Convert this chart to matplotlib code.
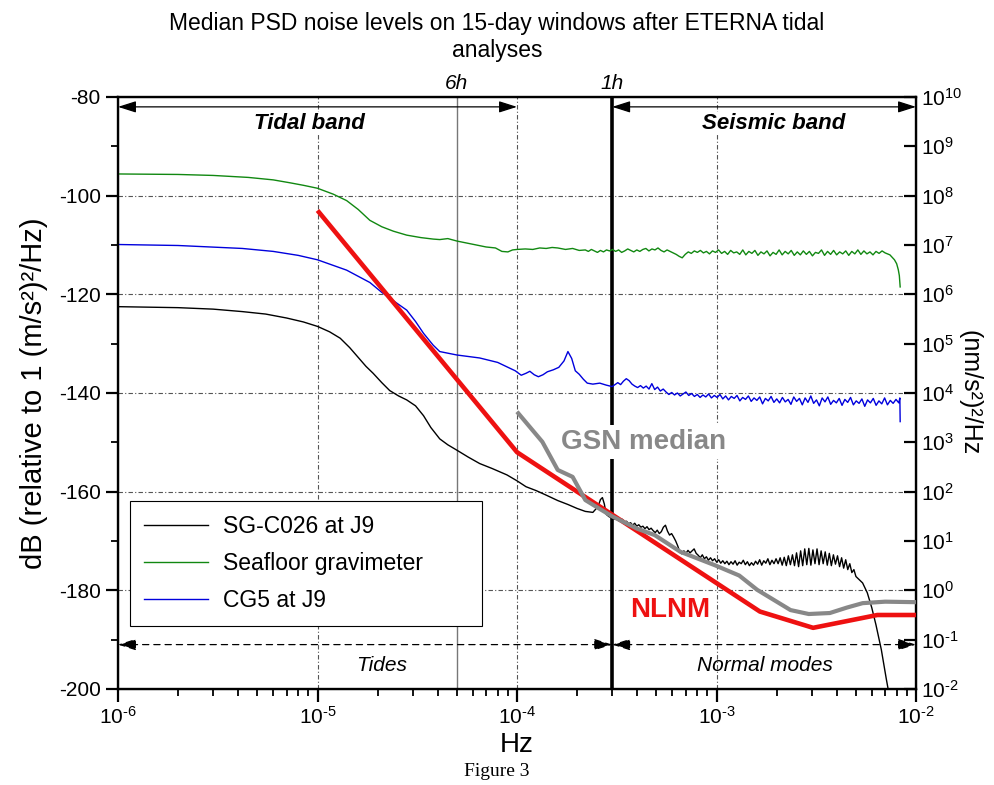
import numpy as np
import matplotlib.pyplot as plt
from matplotlib.ticker import FuncFormatter

plt.rcParams['font.family'] = ['Liberation Sans', 'DejaVu Sans']
plt.rcParams['mathtext.fontset'] = 'custom'
plt.rcParams['mathtext.rm'] = 'Liberation Sans'
plt.rcParams['mathtext.it'] = 'Liberation Sans:italic'
plt.rcParams['mathtext.bf'] = 'Liberation Sans:bold'
plt.rcParams['axes.unicode_minus'] = False

# ---- data (frequency in Hz, level in dB) ----
green_f = [1e-6, 2e-6, 3e-6, 4.5e-6, 6e-6, 7.3e-6, 8.5e-6, 1e-5, 1.2e-5, 1.4e-5, 1.6e-5,
           1.83e-5, 2.1e-5, 2.4e-5, 2.8e-5, 3.3e-5, 3.8e-5, 4.1e-5, 4.5e-5, 5e-5, 5.6e-5,
           6.3e-5, 7e-5, 7.8e-5, 8.4e-5, 9e-5, 9.5e-5, 1.0e-4, 1.1e-4, 1.2e-4, 1.3e-4,
           1.4e-4, 1.5e-4, 1.6e-4, 1.75e-4, 1.9e-4, 2.05e-4]
green_db = [-95.6, -95.7, -95.9, -96.3, -96.8, -97.4, -97.9, -98.5, -99.7, -101.0, -102.8,
            -105.0, -106.3, -107.2, -108.0, -108.5, -108.8, -108.9, -108.7, -109.2, -109.6,
            -110.0, -110.4, -110.6, -111.3, -111.4, -111.0, -110.9, -110.8, -110.9, -110.6,
            -110.7, -110.5, -110.6, -110.9, -110.7, -111.1]
# noisy part, 100 samples log-spaced 2.2e-4 .. 7e-3
green_noise = [-111.0, -111.3, -110.9, -111.2, -111.5, -111.1, -111.4, -111.0, -111.2, -110.9,
               -111.3, -111.0, -111.5, -111.2, -110.8, -111.1, -111.4, -111.0, -111.3, -110.9,
               -110.7, -111.2, -110.8, -111.0, -110.6, -111.1, -111.4, -111.0, -111.3, -111.6,
               -111.9, -112.3, -112.6, -111.9, -111.4, -111.7, -111.2, -111.5, -111.1, -111.6,
               -111.3, -111.8, -111.2, -111.5, -111.0, -111.7, -111.3, -111.9, -111.1, -111.6,
               -111.4, -111.9, -111.0, -112.0, -111.3, -111.7, -111.1, -112.1, -111.4, -111.8,
               -111.2, -112.2, -111.5, -111.9, -111.0, -112.0, -111.3, -111.8, -111.1, -112.1,
               -111.4, -112.0, -111.2, -111.9, -111.3, -112.2, -111.5, -111.7, -111.0, -112.1,
               -111.3, -111.9, -111.1, -112.0, -111.4, -111.8, -111.2, -112.1, -111.3, -111.8,
               -111.0, -111.9, -111.2, -111.8, -111.4, -112.0, -111.3, -111.7, -111.2, -111.6]
green_end_f = [7.4e-3, 7.8e-3, 8.0e-3, 8.15e-3, 8.25e-3, 8.3e-3, 8.33e-3]
green_end_db = [-112.0, -113.0, -113.8, -115.0, -116.2, -117.5, -118.5]

blue_f = [1e-6, 2e-6, 4.2e-6, 6e-6, 8e-6, 1e-5, 1.4e-5, 1.83e-5, 2.1e-5, 2.5e-5, 2.8e-5,
          3.1e-5, 3.4e-5, 3.8e-5, 4.1e-5, 5e-5, 6.5e-5, 8e-5, 8.9e-5, 9.8e-5, 1.05e-4,
          1.11e-4, 1.16e-4, 1.22e-4, 1.28e-4, 1.35e-4, 1.42e-4, 1.52e-4, 1.62e-4, 1.72e-4,
          1.80e-4, 1.88e-4, 1.96e-4, 2.05e-4, 2.15e-4, 2.25e-4, 2.4e-4, 2.6e-4, 2.8e-4, 3.0e-4]
blue_db = [-109.9, -110.1, -110.7, -111.3, -112.1, -113.0, -115.1, -117.6, -119.6, -121.8, -123.2,
           -125.5, -127.9, -130.3, -131.6, -132.3, -132.9, -133.8, -134.7, -135.5, -136.4,
           -136.0, -135.6, -136.3, -136.7, -136.3, -135.7, -135.3, -134.8, -133.5,
           -131.6, -133.0, -135.5, -136.2, -137.2, -138.0, -138.2, -138.0, -138.4, -138.7]
# noisy part, 100 samples log-spaced 3.2e-4 .. 8.2e-3
blue_noise = [-137.9, -138.3, -137.6, -137.1, -137.5, -138.2, -138.6, -138.9, -138.5, -139.0,
              -138.6, -139.2, -138.1, -139.3, -138.8, -139.6, -139.2, -139.8, -140.3, -139.9,
              -140.4, -140.0, -140.6, -140.2, -139.8, -140.5, -140.1, -140.7, -140.3, -140.9,
              -140.4, -140.8, -140.2, -141.0, -140.5, -140.9, -140.3, -141.2, -140.6, -141.4,
              -140.7, -141.1, -140.5, -141.6, -140.9, -141.3, -140.6, -141.7, -141.0, -141.5,
              -140.8, -142.2, -141.1, -141.6, -140.7, -141.9, -141.2, -142.0, -140.9, -141.8,
              -141.3, -142.3, -140.8, -141.7, -141.1, -142.4, -141.0, -141.9, -140.6, -142.1,
              -141.4, -142.6, -141.0, -141.8, -140.8, -142.3, -141.5, -142.0, -141.1, -142.5,
              -141.3, -141.9, -140.9, -142.4, -141.6, -142.1, -141.2, -142.7, -141.4, -142.0,
              -141.1, -142.5, -141.6, -142.2, -141.0, -142.4, -141.5, -142.1, -141.3, -142.0]
blue_end_f = [8.3e-3, 8.33e-3]
blue_end_db = [-141.0, -145.8]

black_f = [1e-6, 2e-6, 3e-6, 4.2e-6, 5.5e-6, 7e-6, 8.5e-6, 1e-5, 1.15e-5, 1.3e-5, 1.45e-5,
           1.6e-5, 1.75e-5, 1.9e-5, 2.1e-5, 2.3e-5, 2.55e-5, 2.8e-5, 3.1e-5, 3.4e-5, 3.7e-5,
           4.1e-5, 4.5e-5, 5e-5, 5.7e-5, 6.5e-5, 7.5e-5, 8.9e-5, 1.0e-4, 1.11e-4, 1.25e-4,
           1.4e-4, 1.6e-4, 1.8e-4, 2.0e-4, 2.2e-4, 2.4e-4, 2.55e-4, 2.62e-4, 2.68e-4, 2.74e-4,
           2.8e-4, 2.9e-4]
black_db = [-122.5, -122.7, -123.0, -123.5, -124.0, -124.8, -125.6, -126.5, -127.6, -128.9, -130.8,
            -132.8, -134.6, -136.0, -137.9, -139.5, -140.6, -141.4, -142.6, -144.6, -147.0,
            -149.3, -150.5, -151.6, -153.0, -154.3, -155.3, -156.6, -157.8, -159.0, -159.8,
            -160.7, -161.8, -162.6, -163.4, -164.0, -164.2, -163.0, -161.6, -161.2, -162.5,
            -164.6, -165.1]
# noisy part, 120 samples log-spaced 3e-4 .. 5e-3
black_noise = [-165.3, -165.6, -165.1, -165.8, -166.0, -165.6, -166.2, -166.0, -166.5, -166.3,
               -166.8, -166.4, -167.0, -166.7, -167.2, -167.0, -167.5, -167.1, -167.7, -167.4,
               -167.9, -168.3, -167.8, -168.5, -168.1, -167.2, -166.8, -168.0, -168.8, -168.5,
               -169.2, -170.0, -171.0, -172.2, -172.6, -172.0, -172.5, -171.9, -172.4, -172.0,
               -171.6, -172.5, -172.9, -173.4, -172.8, -173.6, -173.2, -173.9, -173.4, -174.0,
               -173.6, -174.3, -173.8, -174.5, -174.0, -174.6, -174.1, -174.8, -174.2, -174.7,
               -174.0, -174.9, -174.3, -174.6, -173.9, -174.8, -174.2, -175.0, -174.4, -174.9,
               -174.1, -174.7, -173.8, -174.9, -174.0, -174.5, -173.6, -174.8, -173.9, -174.6,
               -173.6, -174.6, -173.4, -174.9, -173.3, -175.0, -173.0, -174.8, -172.8, -175.0,
               -172.4, -175.2, -172.0, -175.0, -171.6, -174.8, -171.5, -174.9, -171.8, -174.6,
               -171.6, -174.8, -172.0, -174.6, -172.2, -174.9, -172.5, -175.0, -172.8, -174.7,
               -173.0, -175.2, -173.4, -175.5, -173.8, -175.8, -174.6, -176.4, -175.8, -177.2]
black_end_f = [5.4e-3, 5.7e-3, 6.0e-3, 6.3e-3, 6.7e-3, 7.1e-3, 7.4e-3]
black_end_db = [-178.5, -180.5, -183.5, -187.0, -192.0, -198.0, -202.0]

nlnm_f = [1e-5, 1e-4, 1.65e-3, 3.05e-3, 6.4e-3, 1e-2]
nlnm_db = [-103.0, -152.0, -184.3, -187.6, -185.0, -185.0]

gsn_f = [1e-4, 1.34e-4, 1.6e-4, 1.9e-4, 2.2e-4, 2.6e-4, 3e-4, 4e-4, 4.9e-4, 6.6e-4, 9.8e-4,
         1.3e-3, 1.6e-3, 2.35e-3, 2.9e-3, 3.7e-3, 4.5e-3, 5.4e-3, 7e-3, 1e-2]
gsn_db = [-143.8, -149.9, -155.6, -157.0, -161.7, -163.5, -165.0, -167.5, -168.8, -172.2, -174.9,
          -177.0, -179.9, -184.0, -184.8, -184.6, -183.5, -182.6, -182.3, -182.4]

f_6h = 5e-5
f_1h = 3e-4

# ---- assemble series ----
gf = np.concatenate([green_f, np.geomspace(2.2e-4, 7e-3, len(green_noise)), green_end_f])
gd = np.concatenate([green_db, green_noise, green_end_db])
bf = np.concatenate([blue_f, np.geomspace(3.2e-4, 8.2e-3, len(blue_noise)), blue_end_f])
bd = np.concatenate([blue_db, blue_noise, blue_end_db])
kf = np.concatenate([black_f, np.geomspace(3e-4, 5e-3, len(black_noise)), black_end_f])
kd = np.concatenate([black_db, black_noise, black_end_db])


def pow10(v, pos):
    e = int(round(np.log10(v)))
    return r'$10^{\text{%d}}$' % e


fig = plt.figure(figsize=(9.94, 7.85), dpi=100)
ax = fig.add_axes([118/994, 1 - 689/785, 798/994, 592/785])
ax.set_xscale('log')
ax.set_xlim(1e-6, 1e-2)
ax.set_ylim(-200, -80)

# grid
for fx in [1e-5, 1e-4, 1e-3]:
    ax.axvline(fx, color='#555555', lw=0.8, ls=(0, (4, 2, 1, 2)), zorder=1)
for yy in [-100, -120, -140, -160, -180]:
    ax.axhline(yy, color='#555555', lw=0.8, ls=(0, (4, 2, 1, 2)), zorder=1)

ax.axvline(f_6h, color='#777777', lw=1.0, zorder=1)
ax.axvline(f_1h, color='black', lw=2.6, zorder=2)

ax.plot(kf, kd, color='black', lw=1.0, label='SG-C026 at J9', zorder=3)
ax.plot(gf, gd, color='#118811', lw=1.0, label='Seafloor gravimeter', zorder=3)
ax.plot(bf, bd, color='#0000dd', lw=1.0, label='CG5 at J9', zorder=3)
ax.plot(nlnm_f, nlnm_db, color='#ee1111', lw=3.3, zorder=4, solid_capstyle='butt')
ax.plot(gsn_f, gsn_db, color='#888888', lw=3.0, zorder=4, solid_capstyle='butt')

# arrows
head = '<|-|>,head_length=1.1,head_width=0.35'
for x0, x1 in [(1e-6, 1e-4), (f_1h, 1e-2)]:
    ax.annotate('', xy=(x1, -82), xytext=(x0, -82),
                arrowprops=dict(arrowstyle=head, color='black', lw=0.9,
                                mutation_scale=10, shrinkA=0, shrinkB=0), zorder=5)
for x0, x1 in [(1e-6, f_1h), (f_1h, 1e-2)]:
    ax.annotate('', xy=(x1, -191), xytext=(x0, -191),
                arrowprops=dict(arrowstyle=head, color='black', lw=0.9, ls=(0, (5, 4)),
                                mutation_scale=10, shrinkA=0, shrinkB=0), zorder=5)

wb = dict(facecolor='white', edgecolor='none', pad=1)
ax.text(9.06e-6, -85.4, 'Tidal band', fontsize=16, fontweight='bold', style='italic',
        ha='center', va='center', bbox=wb, zorder=6)
ax.text(1.94e-3, -85.4, 'Seismic band', fontsize=16, fontweight='bold', style='italic',
        ha='center', va='center', bbox=wb, zorder=6)
ax.text(2.1e-5, -195.2, 'Tides', fontsize=15, style='italic', ha='center', va='center')
ax.text(1.75e-3, -195.2, 'Normal modes', fontsize=15, style='italic', ha='center', va='center')
ax.text(4.29e-4, -149.9, 'GSN median', fontsize=20, fontweight='bold', color='#888888',
        ha='center', va='center', bbox=dict(facecolor='white', edgecolor='none', pad=3), zorder=6)
ax.text(5.85e-4, -184.0, 'NLNM', fontsize=20, fontweight='bold', color='#ee1111',
        ha='center', va='center', zorder=6)
ax.text(f_6h, -77.3, '6h', fontsize=15, style='italic', ha='center', va='center')
ax.text(f_1h, -77.3, '1h', fontsize=15, style='italic', ha='center', va='center')

# axes styling
for s in ax.spines.values():
    s.set_linewidth(1.7)
ax.set_yticks(range(-200, -79, 20))
ax.set_yticks(range(-190, -80, 20), minor=True)
ax.xaxis.set_major_formatter(FuncFormatter(pow10))
ax.tick_params(axis='both', which='major', direction='out', length=9, width=1.6,
               labelsize=15, top=False, right=False)
ax.tick_params(axis='both', which='minor', direction='out', length=5, width=1.3,
               top=False, right=False)
ax.set_xlabel('Hz', fontsize=20, labelpad=3)
ax.set_ylabel('dB (relative to 1 (m/s²)²/Hz)', fontsize=21, labelpad=8)

ax2 = ax.twinx()
ax2.set_yscale('log')
ax2.set_ylim(1e-2, 1e10)
ax2.set_yticks([10.0**k for k in range(-2, 11)])
ax2.yaxis.set_major_formatter(FuncFormatter(pow10))
ax2.tick_params(axis='y', which='major', direction='in', length=9, width=1.6, labelsize=15)
ax2.tick_params(axis='y', which='minor', direction='in', length=5, width=1.0)
ax2.set_ylabel('(nm/s²)²/Hz', fontsize=18, rotation=270, labelpad=14)

leg = ax.legend(loc='lower left', bbox_to_anchor=(0.015, 0.106, (482 - 130) / 798, 0.2),
                mode='expand', borderaxespad=0,
                fontsize=16.5, handlelength=2.8, handletextpad=0.65, fancybox=False,
                framealpha=1, edgecolor='black', borderpad=0.6, labelspacing=0.62)
leg.get_frame().set_linewidth(0.8)
leg.set_zorder(7)

fig.text(0.5, 0.985, 'Median PSD noise levels on 15-day windows after ETERNA tidal\nanalyses',
         ha='center', va='top', fontsize=16.5, linespacing=1.25)
fig.text(0.5, 0.006, 'Figure 3', ha='center', va='bottom', fontsize=14,
         family='Liberation Serif')

fig.savefig('out.png', dpi=100)
